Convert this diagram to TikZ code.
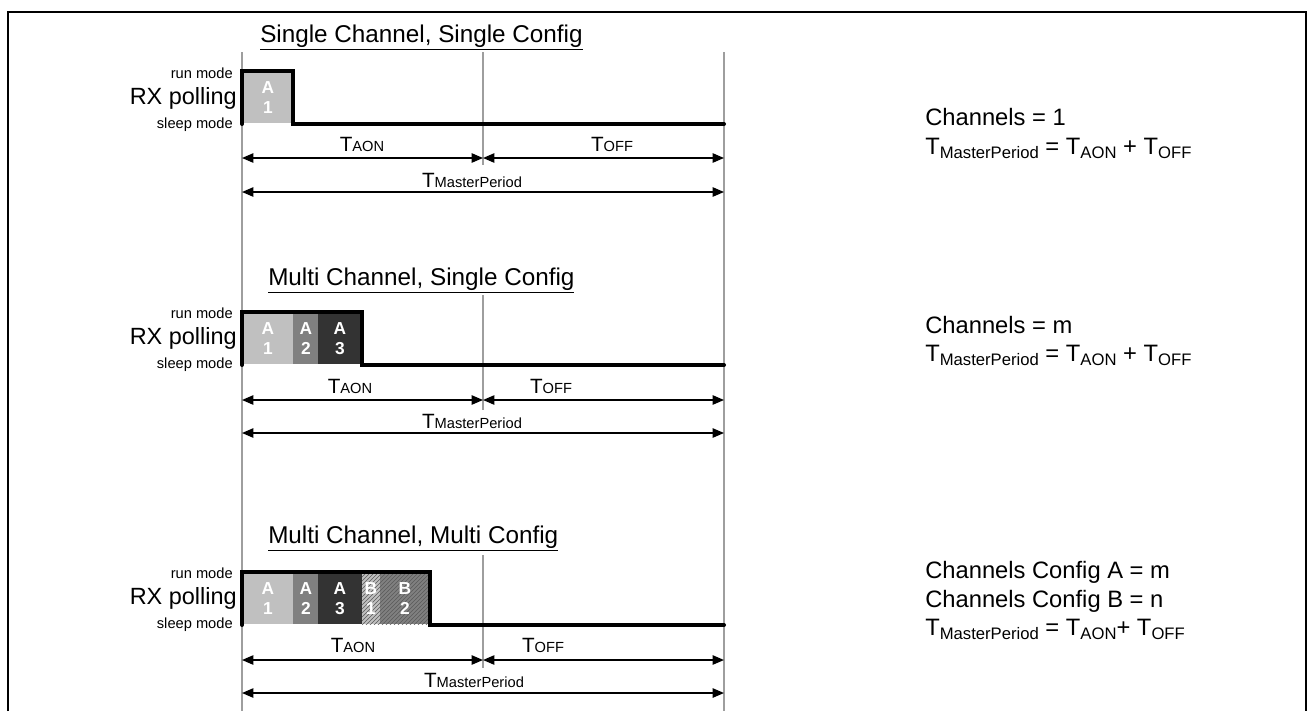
\documentclass[tikz,border=0pt]{standalone}
\usepackage{fontspec}
\setmainfont{Liberation Sans}
\usepackage{xcolor}
\usetikzlibrary{arrows.meta,patterns}
\definecolor{slotlight}{HTML}{C0C0C0}
\definecolor{slotmid}{HTML}{808080}
\definecolor{slotdark}{HTML}{333333}
\newcommand{\tsmall}[1]{{\fontsize{11}{13}\selectfont #1}}
\newcommand{\tsub}[1]{\raisebox{-3.5pt}{\fontsize{12.5}{14}\selectfont #1}}
\tikzset{
  pframe/.style={draw=black,line width=1.9pt},
  pgrid/.style={draw=black!38,line width=1.1pt},
  psig/.style={draw=black,line width=3pt,line cap=round},
  pdim/.style={{Triangle[length=8.5pt,width=7pt]}-{Triangle[length=8.5pt,width=7pt]},draw=black,line width=1.1pt},
  phatch/.style={pattern=north east lines,pattern color=black!65},
  pmode/.style={anchor=east,inner sep=0pt,font=\fontsize{11}{13}\selectfont},
  pname/.style={anchor=east,inner sep=0pt,font=\fontsize{17.6}{20}\selectfont},
  ptitle/.style={anchor=base west,inner sep=0pt,font=\fontsize{18.2}{21}\selectfont},
  pslot/.style={text=white,align=center,inner sep=0pt,font=\bfseries\fontsize{13}{15}\selectfont},
  ptime/.style={anchor=base,inner sep=0pt,font=\fontsize{15.5}{18}\selectfont},
  pnote/.style={anchor=base west,inner sep=0pt,font=\fontsize{17.8}{21}\selectfont}
}

\begin{document}
\begin{tikzpicture}[x=0.75pt,y=-0.75pt]
  \useasboundingbox (0,0) rectangle (1308,711);
  \draw[pframe] (8,711) -- (8,12) -- (1306,12) -- (1306,711);
  % time grid
  \draw[pgrid] (242,52) -- (242,711);
  \draw[pgrid] (724,52) -- (724,711);
  \draw[pgrid] (483,52) -- (483,165);
  \draw[pgrid] (483,295) -- (483,410);
  \draw[pgrid] (483,555) -- (483,668);

  % single channel, single config
  \node[ptitle] (title1) at (260,42) {\underline{Single Channel, Single Config}};
  \begin{scope}
    \fill[slotlight] (243,73) rectangle (293,123);
    \node[pslot] (a1s1) at (268,98) {A\\1};
    \draw[psig] (242,124) -- (242,71) -- (293,71) -- (293,124) -- (724,124);
    \node[pmode] (run1) at (233,73) {run mode};
    \node[pname] (rx1) at (237,98) {RX polling};
    \node[pmode] (sleep1) at (233,125) {sleep mode};
    \coordinate (dl1) at (242,158);
    \coordinate (dm1) at (483,158);
    \coordinate (dr1) at (724,158);
    \coordinate (pl1) at (242,192);
    \coordinate (pr1) at (724,192);
    \draw[pdim] (dl1) -- (dm1);
    \draw[pdim] (dm1) -- (dr1);
    \draw[pdim] (pl1) -- (pr1);
    \node[ptime] (aon1) at (362,151) {T\tsmall{AON}};
    \node[ptime] (off1) at (612,151) {T\tsmall{OFF}};
    \node[ptime] (mp1) at (472,187) {T\tsmall{MasterPeriod}};
  \end{scope}
  \node[pnote] (ch1) at (925,125) {Channels = 1};
  \node[pnote] (eq1) at (925,154) {T\tsub{MasterPeriod} = T\tsub{AON} + T\tsub{OFF}};

  % multi channel, single config
  \node[ptitle] (title2) at (268,285) {\underline{Multi Channel, Single Config}};
  \begin{scope}[shift={(0,241)}]
    \fill[slotlight] (243,73) rectangle (293,123);
    \fill[slotmid] (293,73) rectangle (318,123);
    \fill[slotdark] (318,73) rectangle (362,123);
    \node[pslot] (a1s2) at (268,98) {A\\1};
    \node[pslot] (a2s2) at (306,98) {A\\2};
    \node[pslot] (a3s2) at (340,98) {A\\3};
    \draw[psig] (242,124) -- (242,71) -- (362,71) -- (362,124) -- (724,124);
    \node[pmode] (run2) at (233,72) {run mode};
    \node[pname] (rx2) at (237,97) {RX polling};
    \node[pmode] (sleep2) at (233,124) {sleep mode};
    \coordinate (dl2) at (242,159);
    \coordinate (dm2) at (483,159);
    \coordinate (dr2) at (724,159);
    \coordinate (pl2) at (242,192);
    \coordinate (pr2) at (724,192);
    \draw[pdim] (dl2) -- (dm2);
    \draw[pdim] (dm2) -- (dr2);
    \draw[pdim] (pl2) -- (pr2);
    \node[ptime] (aon2) at (350,152) {T\tsmall{AON}};
    \node[ptime] (off2) at (551,152) {T\tsmall{OFF}};
    \node[ptime] (mp2) at (472,187) {T\tsmall{MasterPeriod}};
  \end{scope}
  \node[pnote] (ch2) at (925,333) {Channels = m};
  \node[pnote] (eq2) at (925,361) {T\tsub{MasterPeriod} = T\tsub{AON} + T\tsub{OFF}};

  % multi channel, multi config
  \node[ptitle] (title3) at (268,543) {\underline{Multi Channel, Multi Config}};
  \begin{scope}[shift={(0,501)}]
    \fill[slotlight] (243,73) rectangle (293,123);
    \fill[slotmid] (293,73) rectangle (318,123);
    \fill[slotdark] (318,73) rectangle (362,123);
    \fill[slotlight] (362,73) rectangle (380,123);
    \fill[slotmid] (380,73) rectangle (430,123);
    \fill[phatch] (362,73) rectangle (430,123);
    \node[pslot] (a1s3) at (268,98) {A\\1};
    \node[pslot] (a2s3) at (306,98) {A\\2};
    \node[pslot] (a3s3) at (340,98) {A\\3};
    \node[pslot] (b1s3) at (371,98) {B\\1};
    \node[pslot] (b2s3) at (405,98) {B\\2};
    \draw[psig] (242,124) -- (242,71) -- (430,71) -- (430,124) -- (724,124);
    \node[pmode] (run3) at (233,72) {run mode};
    \node[pname] (rx3) at (237,97) {RX polling};
    \node[pmode] (sleep3) at (233,124) {sleep mode};
    \coordinate (dl3) at (242,159);
    \coordinate (dm3) at (483,159);
    \coordinate (dr3) at (724,159);
    \coordinate (pl3) at (242,192);
    \coordinate (pr3) at (724,192);
    \draw[pdim] (dl3) -- (dm3);
    \draw[pdim] (dm3) -- (dr3);
    \draw[pdim] (pl3) -- (pr3);
    \node[ptime] (aon3) at (353,151) {T\tsmall{AON}};
    \node[ptime] (off3) at (543,151) {T\tsmall{OFF}};
    \node[ptime] (mp3) at (474,186) {T\tsmall{MasterPeriod}};
  \end{scope}
  \node[pnote] (ca3) at (925,578) {Channels Config A = m};
  \node[pnote] (cb3) at (925,607) {Channels Config B = n};
  \node[pnote] (eq3) at (925,635) {T\tsub{MasterPeriod} = T\tsub{AON}+ T\tsub{OFF}};
\end{tikzpicture}
\end{document}
